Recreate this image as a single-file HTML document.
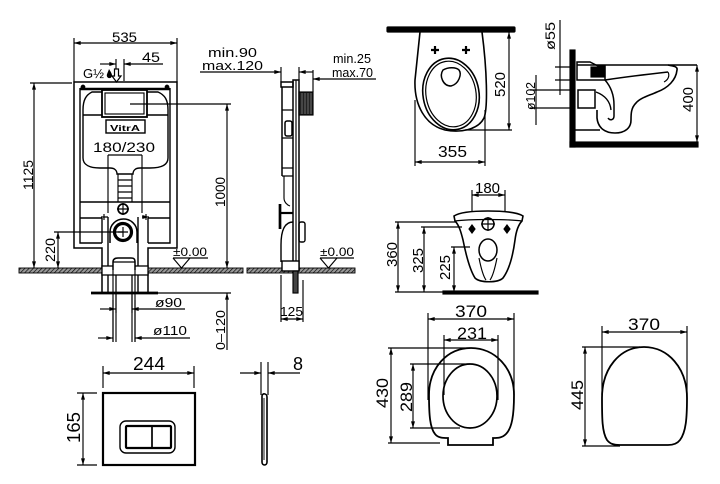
<!DOCTYPE html>
<html><head><meta charset="utf-8">
<style>
html,body{margin:0;padding:0;background:#fff;}
svg{display:block;}
text{font-family:"Liberation Sans",Arial,sans-serif;fill:#000;}
</style></head>
<body>
<svg width="720" height="484" viewBox="0 0 720 484" xmlns="http://www.w3.org/2000/svg">
<defs>
<marker id="a" viewBox="0 0 10 6" refX="10" refY="3" markerWidth="7" markerHeight="4" orient="auto-start-reverse" markerUnits="userSpaceOnUse"><path d="M0,0 L10,3 L0,6 z" fill="#000"/></marker>
<pattern id="h" width="3" height="3" patternUnits="userSpaceOnUse" patternTransform="rotate(45)"><rect width="3" height="3" fill="#999"/><line x1="0" y1="0" x2="0" y2="3" stroke="#000" stroke-width="1.3"/></pattern>
</defs>

<g fill="none" stroke="#000" stroke-width="1.15">

<!-- ================= LEFT FRAME FRONT ================= -->
<path d="M102,293 L102,248 L74,248 L74,82 L177,82 L177,248 L148,248 L148,293" stroke-width="1.5"/>
<path d="M80,88 L80,243 L102,243 M148,243 L170,243 L170,88" stroke-width="1.4"/>
<line x1="80" y1="202" x2="170" y2="202" stroke-width="1.4"/>
<line x1="80" y1="218" x2="102" y2="218" stroke-width="1.4"/>
<line x1="148" y1="218" x2="170" y2="218" stroke-width="1.4"/>
<line x1="102" y1="218" x2="102" y2="243" stroke-width="1.4"/>
<line x1="148" y1="218" x2="148" y2="243" stroke-width="1.4"/>
<line x1="108" y1="217" x2="108" y2="293" stroke-width="1.4"/>
<line x1="138" y1="217" x2="138" y2="293" stroke-width="1.4"/>
<line x1="80" y1="89" x2="170" y2="89" stroke-width="2.5"/>
<circle cx="83" cy="87" r="1.8" fill="#000"/>
<circle cx="167" cy="87" r="1.8" fill="#000"/>
<path d="M92,92 L158,92 C165,95 168,100 168,110 L168,158 C168,166 160,168 150,168 L140,168 C136,168 133,170 133,174 L117,174 C117,170 114,168 110,168 L100,168 C90,168 83,165 83,158 L83,110 C83,100 86,95 92,92 Z" stroke-width="1.4"/>
<line x1="83" y1="115" x2="168" y2="115" stroke-width="1.4"/>
<rect x="102" y="90" width="45" height="27" stroke-width="1.8" fill="#fff"/>
<rect x="105" y="93" width="39" height="21"/>
<path d="M118,174 L118,202 M132,174 L132,202 M118,180 L132,180 M118,186 L132,186 M118,192 L132,192 M118,198 L132,198"/>
<rect x="106" y="120" width="39" height="13" stroke-width="1.4"/>
<path d="M108,155 L142,155 M108,155 L108,213 M142,155 L142,213"/>
<path d="M101,217 L108,217 M142,217 L149,217" marker-end="url(#a)"/>
<path d="M104,214 L104,220 M146,214 L146,220"/>
<circle cx="123" cy="209" r="5" stroke-width="1.7"/>
<path d="M117,209 L129,209 M123,203 L123,215"/>
<path d="M110,243 L110,232 A13.5,13 0 0 1 137,232 L137,243" stroke-width="1.5"/>
<circle cx="123" cy="232" r="8.5" stroke-width="3.2" fill="#fff"/>
<path d="M118,232 L128,232 M123,227 L123,237"/>
<rect x="19" y="268" width="224" height="5" fill="url(#h)" stroke-width="0.9"/>
<rect x="102" y="266" width="46" height="9" fill="#fff" stroke-width="1.3"/>
<path d="M113,270 L113,262 C113,259 115,258 118,258 L131,258 C134,258 135,259 135,262 L135,270" stroke-width="1.5" fill="#fff"/>
<line x1="113" y1="262" x2="135" y2="262"/>
<path d="M113,270 L113,342 M135,270 L135,342 M116,275 L116,342 M132,275 L132,342"/>
<line x1="91" y1="293" x2="158" y2="293" stroke-width="2.7"/>

<line x1="74" y1="43" x2="177" y2="43" marker-start="url(#a)" marker-end="url(#a)"/>
<path d="M74,38 L74,82 M177,38 L177,82"/>
<line x1="100" y1="64" x2="116" y2="64" marker-end="url(#a)"/>
<line x1="163" y1="64" x2="124" y2="64" marker-end="url(#a)"/>
<path d="M116,59 L116,69 M124,59 L124,81"/>
<path d="M114.5,69 L118.5,69 L118.5,76 L121,76 L116.5,82 L112,76 L114.5,76 Z" stroke-width="1.2"/>
<path d="M109,69 C111,72 112,74 112,75.5 A2.6,2.6 0 0 1 106.8,75.5 C106.8,74 108,72 109,69 Z" fill="#000" stroke="none"/>
<line x1="34" y1="83" x2="34" y2="268" marker-start="url(#a)" marker-end="url(#a)"/>
<line x1="30" y1="83" x2="72" y2="83"/>
<line x1="58" y1="232" x2="58" y2="268" marker-start="url(#a)" marker-end="url(#a)"/>
<line x1="54" y1="232" x2="123" y2="232"/>
<line x1="227" y1="104" x2="227" y2="268" marker-start="url(#a)" marker-end="url(#a)"/>
<line x1="130" y1="104" x2="231" y2="104"/>
<path d="M173,258 L208,258 M173,258 L181.5,268 L190,258"/>
<line x1="227" y1="350" x2="227" y2="293" marker-end="url(#a)"/>
<line x1="140" y1="293" x2="231" y2="293"/>
<path d="M116,275 L116,313 M132,275 L132,313"/>
<path d="M113,300 L113,342 M135,300 L135,342"/>
<line x1="100" y1="309" x2="116" y2="309" marker-end="url(#a)"/>
<line x1="185" y1="309" x2="132" y2="309" marker-end="url(#a)"/>
<line x1="98" y1="338" x2="113" y2="338" marker-end="url(#a)"/>
<line x1="190" y1="338" x2="135" y2="338" marker-end="url(#a)"/>

<!-- ================= SIDE VIEW FRAME ================= -->
<rect x="247" y="268" width="108" height="5" fill="url(#h)" stroke-width="0.9"/>
<rect x="293" y="80" width="6" height="190" stroke-width="1.5" fill="#fff"/>
<line x1="296" y1="80" x2="296" y2="270"/>
<rect x="281" y="82" width="12" height="5" stroke-width="1.5"/>
<path d="M282,87 L282,176" stroke-width="1.5"/>
<path d="M282,110 L293,110 M282,138 L293,138 M282,168 L293,168 M282,176 L293,176"/>
<rect x="285" y="121" width="7" height="15" rx="2" stroke-width="1.5"/>
<path d="M284,176 L284,198 C284,202 287,205 290,206"/>
<path d="M280,204 L280,229" stroke-width="2.7"/>
<path d="M280,213 L293,213" stroke-width="2.2"/>
<path d="M293,222 C284,222 281,232 281,245 L281,262" stroke-width="1.4"/>
<rect x="299" y="222" width="6" height="20" rx="2" stroke-width="1.4"/>
<rect x="282" y="261" width="17" height="10" stroke-width="1.4" fill="#fff"/>
<rect x="293" y="271" width="5" height="22" fill="#444"/>
<rect x="299" y="92" width="14" height="23" fill="#222"/>
<path d="M302,93 L302,114 M305,93 L305,114 M308,93 L308,114 M311,93 L311,114" stroke="#888" stroke-width="0.7"/>
<path d="M281,275 L281,322 M303,280 L303,322"/>
<line x1="281" y1="319" x2="303" y2="319" marker-start="url(#a)" marker-end="url(#a)"/>
<line x1="200" y1="72" x2="281" y2="72" marker-end="url(#a)"/>
<line x1="313" y1="72" x2="299" y2="72" marker-end="url(#a)"/>
<path d="M281,67 L281,82 M299,67 L299,80 M313,70 L313,92"/>
<line x1="376" y1="79" x2="313" y2="79" marker-end="url(#a)"/>
<path d="M320,258 L354,258 M320,258 L328.5,268 L337,258"/>

<!-- ================= TOP VIEW TOILET ================= -->
<rect x="387" y="27" width="128" height="5" rx="1" fill="#000"/>
<path d="M420,32 L415,80 C414,105 425,125 445,130 C460,133 478,130 484,118 C488,108 487,70 482,32" stroke-width="1.6"/>
<ellipse cx="451" cy="94" rx="28" ry="36" transform="rotate(-10 451 94)" stroke-width="1.6"/>
<ellipse cx="451" cy="94" rx="25" ry="33" transform="rotate(-10 451 94)" stroke-width="1.2"/>
<path d="M443,70 C448,67 456,67 459,70 C462,74 459,84 451,86 C443,86 439,76 443,70 Z" stroke-width="1.5"/>
<path d="M431,50 L439,50 M435,46 L435,54 M462,50 L470,50 M466,46 L466,54" stroke-width="2.2"/>
<line x1="509" y1="32" x2="509" y2="130" marker-start="url(#a)" marker-end="url(#a)"/>
<line x1="465" y1="130" x2="512" y2="130"/>
<path d="M415,100 L415,166 M485,110 L485,166"/>
<line x1="415" y1="162" x2="485" y2="162" marker-start="url(#a)" marker-end="url(#a)"/>

<!-- ================= SIDE VIEW TOILET ================= -->
<rect x="570" y="50" width="5" height="97" fill="#000"/>
<rect x="570" y="142" width="128" height="5" fill="#000"/>
<line x1="577" y1="65" x2="697" y2="65" stroke-width="1.5"/>
<line x1="697" y1="65" x2="697" y2="142" marker-start="url(#a)" marker-end="url(#a)"/>
<path d="M577,62 L590,62 L598,66 L605,66 L605,80 L577,80 Z" stroke-width="1.5"/>
<rect x="591" y="67" width="14" height="10" fill="#000"/>
<path d="M605,80 C625,77 650,74 668,72" stroke-width="1.5"/>
<path d="M668,65 C672,66 678,66 677,70 C676,80 668,88 657,92 C648,96 640,98 636,103 C631,108 631,114 631,120 C631,128 625,133 615,133 C605,133 598,128 597,118 L597,110" stroke-width="1.6"/>
<path d="M668,72 C670,76 668,80 664,82"/>
<path d="M605,80 C612,88 614,96 614,105 L614,116 C614,120 610,121 608,118" stroke-width="1.5"/>
<path d="M596,92 C604,95 610,100 611,110" stroke-width="1.4"/>
<rect x="578" y="90" width="17" height="18" stroke-width="1.5"/>
<line x1="575" y1="130" x2="600" y2="130" stroke-width="1.4"/>
<line x1="560" y1="20" x2="560" y2="95"/>
<path d="M555,67 L575,67 M555,80 L575,80"/>
<line x1="536" y1="75" x2="536" y2="125"/>
<path d="M530,90 L575,90 M530,108 L575,108"/>

<!-- ================= FRONT VIEW TOILET ================= -->
<line x1="472" y1="195" x2="505" y2="195" marker-start="url(#a)" marker-end="url(#a)"/>
<path d="M472,190 L472,228 M505,190 L505,228"/>
<path d="M454,216 C460,212 475,211 488,211 C502,211 517,212 523,216 L522,221 C518,225 516,232 515,240 C513,255 509,270 503,278 C498,283 480,283 475,278 C470,270 466,255 463,240 C461,232 459,225 455,221 Z" stroke-width="1.6" fill="#fff"/>
<path d="M455,221 C470,219 506,219 522,221" stroke-width="1.2"/>
<circle cx="488" cy="224" r="6" stroke-width="1.5"/>
<path d="M481,224 L495,224 M488,217 L488,231"/>
<path d="M472,225 L475,229 L472,233 L469,229 Z M507,225 L510,229 L507,233 L504,229 Z" fill="#000"/>
<ellipse cx="488" cy="250" rx="9" ry="11" stroke-width="1.5"/>
<path d="M479,258 C481,268 483,276 486,280 M497,258 C495,268 493,276 490,280"/>
<rect x="443" y="291" width="95" height="3" fill="#000"/>
<line x1="395" y1="292" x2="443" y2="292"/>
<line x1="398" y1="222" x2="398" y2="292" marker-start="url(#a)" marker-end="url(#a)"/>
<line x1="395" y1="222" x2="456" y2="222"/>
<line x1="424" y1="227" x2="424" y2="292" marker-start="url(#a)" marker-end="url(#a)"/>
<line x1="421" y1="227" x2="462" y2="227"/>
<line x1="454" y1="247" x2="454" y2="292" marker-start="url(#a)" marker-end="url(#a)"/>
<line x1="451" y1="247" x2="470" y2="247"/>

<!-- ================= SEAT 1 ================= -->
<path d="M471,348 C495,348 514,368 514,395 C514,415 512,428 506,434 C502,438 498,438 493,438 L493,445 L448,445 L448,438 C443,438 438,438 435,434 C430,428 429,415 429,395 C429,368 447,348 471,348 Z" stroke-width="1.8"/>
<ellipse cx="470" cy="396" rx="27" ry="32" stroke-width="1.7"/>
<line x1="428" y1="319" x2="514" y2="319" marker-start="url(#a)" marker-end="url(#a)"/>
<path d="M428,313 L428,400 M514,313 L514,395"/>
<line x1="444" y1="340" x2="498" y2="340" marker-start="url(#a)" marker-end="url(#a)"/>
<path d="M444,335 L444,395 M498,335 L498,400"/>
<line x1="391" y1="348" x2="391" y2="443" marker-start="url(#a)" marker-end="url(#a)"/>
<path d="M388,348 L470,348 M388,443 L440,443"/>
<line x1="413" y1="364" x2="413" y2="428" marker-start="url(#a)" marker-end="url(#a)"/>
<path d="M410,364 L470,364 M410,428 L460,428"/>

<!-- ================= SEAT 2 (LID) ================= -->
<path d="M644,347 C668,347 687,368 687,398 C687,418 686,432 680,440 C677,444 673,445 668,445 L620,445 C614,445 610,444 607,440 C602,432 602,418 602,398 C602,368 620,347 644,347 Z" stroke-width="1.8"/>
<line x1="602" y1="332" x2="687" y2="332" marker-start="url(#a)" marker-end="url(#a)"/>
<path d="M602,326 L602,395 M687,326 L687,400"/>
<line x1="585" y1="347" x2="585" y2="446" marker-start="url(#a)" marker-end="url(#a)"/>
<path d="M582,347 L640,347 M582,446 L620,446"/>

<!-- ================= FLUSH PLATE ================= -->
<rect x="103" y="393" width="92" height="72" stroke-width="2.2"/>
<rect x="120" y="421" width="55" height="32" rx="6" stroke-width="1.4"/>
<rect x="126" y="426" width="45" height="22" rx="1" stroke-width="2.2"/>
<line x1="152" y1="426" x2="152" y2="448" stroke-width="1.7"/>
<line x1="103" y1="373" x2="194" y2="373" marker-start="url(#a)" marker-end="url(#a)"/>
<path d="M103,366 L103,388 M194,366 L194,388"/>
<line x1="83" y1="393" x2="83" y2="465" marker-start="url(#a)" marker-end="url(#a)"/>
<path d="M77,393 L97,393 M77,465 L97,465"/>
<line x1="240" y1="373" x2="261" y2="373" marker-end="url(#a)"/>
<line x1="300" y1="373" x2="268" y2="373" marker-end="url(#a)"/>
<path d="M261,362 L261,395 M268,362 L268,395"/>
<path d="M262,396 C262,393 267,393 267,397 L267,462 C267,466 262,466 262,462 Z" stroke-width="1.6"/>
<line x1="264" y1="398" x2="264" y2="460" stroke-width="0.9"/>
</g>

<!-- ================= TEXT ================= -->
<g font-size="14">
<text x="112" y="42" textLength="25" lengthAdjust="spacingAndGlyphs">535</text>
<text x="142" y="62" textLength="18" lengthAdjust="spacingAndGlyphs">45</text>
<text x="83" y="78" font-size="13" textLength="21" lengthAdjust="spacingAndGlyphs">G½</text>
<text x="110" y="131" font-size="8.5" font-weight="bold" textLength="30" lengthAdjust="spacingAndGlyphs">VitrA</text>
<text x="93" y="152" textLength="62" lengthAdjust="spacingAndGlyphs">180/230</text>
<text transform="translate(33,190) rotate(-90)" textLength="30" lengthAdjust="spacingAndGlyphs">1125</text>
<text transform="translate(55,262) rotate(-90)" textLength="24" lengthAdjust="spacingAndGlyphs">220</text>
<text transform="translate(225,207) rotate(-90)" textLength="30" lengthAdjust="spacingAndGlyphs">1000</text>
<text x="173" y="256" font-size="12" textLength="34" lengthAdjust="spacingAndGlyphs">±0.00</text>
<text x="155" y="307" font-size="13" textLength="27" lengthAdjust="spacingAndGlyphs">ø90</text>
<text x="153" y="335" font-size="13" textLength="34" lengthAdjust="spacingAndGlyphs">ø110</text>
<text transform="translate(225,350) rotate(-90)" font-size="13" textLength="40" lengthAdjust="spacingAndGlyphs">0–120</text>
<text x="208" y="57" font-size="12.5" textLength="49" lengthAdjust="spacingAndGlyphs">min.90</text>
<text x="202" y="70" font-size="12.5" textLength="61" lengthAdjust="spacingAndGlyphs">max.120</text>
<text x="333" y="63" font-size="12.5" textLength="38" lengthAdjust="spacingAndGlyphs">min.25</text>
<text x="332" y="77" font-size="12.5" textLength="41" lengthAdjust="spacingAndGlyphs">max.70</text>
<text x="320" y="256" font-size="12" textLength="34" lengthAdjust="spacingAndGlyphs">±0.00</text>
<text x="280" y="316" font-size="13" textLength="23" lengthAdjust="spacingAndGlyphs">125</text>
<text x="438" y="157" font-size="16" textLength="29" lengthAdjust="spacingAndGlyphs">355</text>
<text transform="translate(505,97) rotate(-90)" font-size="15" textLength="25" lengthAdjust="spacingAndGlyphs">520</text>
<text transform="translate(555,50) rotate(-90)" font-size="14" textLength="28" lengthAdjust="spacingAndGlyphs">ø55</text>
<text transform="translate(535,110) rotate(-90)" font-size="13" textLength="28" lengthAdjust="spacingAndGlyphs">ø102</text>
<text transform="translate(693,112) rotate(-90)" font-size="15" textLength="25" lengthAdjust="spacingAndGlyphs">400</text>
<text x="475" y="193" font-size="15" textLength="25" lengthAdjust="spacingAndGlyphs">180</text>
<text transform="translate(397,267) rotate(-90)" font-size="15" textLength="25" lengthAdjust="spacingAndGlyphs">360</text>
<text transform="translate(423,273) rotate(-90)" font-size="15" textLength="25" lengthAdjust="spacingAndGlyphs">325</text>
<text transform="translate(450,280) rotate(-90)" font-size="15" textLength="25" lengthAdjust="spacingAndGlyphs">225</text>
<text x="455" y="317" font-size="17" textLength="32" lengthAdjust="spacingAndGlyphs">370</text>
<text x="457" y="339" font-size="17" textLength="30" lengthAdjust="spacingAndGlyphs">231</text>
<text transform="translate(388,408) rotate(-90)" font-size="17" textLength="30" lengthAdjust="spacingAndGlyphs">430</text>
<text transform="translate(412,412) rotate(-90)" font-size="17" textLength="30" lengthAdjust="spacingAndGlyphs">289</text>
<text x="628" y="330" font-size="17" textLength="32" lengthAdjust="spacingAndGlyphs">370</text>
<text transform="translate(583,410) rotate(-90)" font-size="17" textLength="30" lengthAdjust="spacingAndGlyphs">445</text>
<text x="133" y="370" font-size="18" textLength="32" lengthAdjust="spacingAndGlyphs">244</text>
<text transform="translate(80,443) rotate(-90)" font-size="18" textLength="31" lengthAdjust="spacingAndGlyphs">165</text>
<text x="293" y="370" font-size="18">8</text>
</g>
</svg>
</body></html>
